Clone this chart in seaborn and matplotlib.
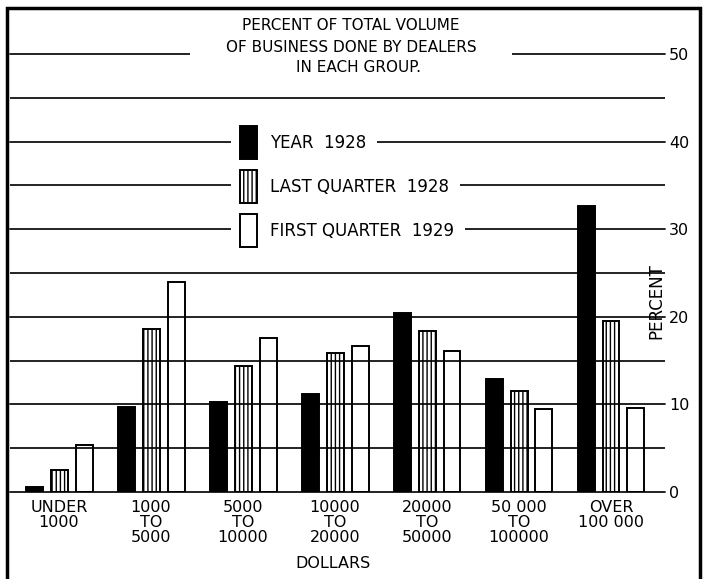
import pandas as pd
import seaborn as sns
import matplotlib.pyplot as plt
import matplotlib.patheffects as pe
from matplotlib.patches import Patch, Rectangle

# values (percent of total volume)
categories = ["UNDER\n1000", "1000\nTO\n5000", "5000\nTO\n10000", "10000\nTO\n20000",
              "20000\nTO\n50000", "50 000\nTO\n100000", "OVER\n100 000"]
series = ["YEAR  1928", "LAST QUARTER  1928", "FIRST QUARTER  1929"]
year_1928 = [0.6, 9.7, 10.3, 11.2, 20.4, 12.9, 32.6]
last_quarter_1928 = [2.5, 18.6, 14.4, 15.9, 18.4, 11.5, 19.5]
first_quarter_1929 = [5.4, 24.0, 17.6, 16.7, 16.1, 9.5, 9.6]
title_lines = ["PERCENT OF TOTAL VOLUME", "OF BUSINESS DONE BY DEALERS", "IN EACH GROUP."]

df = pd.DataFrame({
    "group": categories * 3,
    "series": [s for s in series for _ in categories],
    "value": year_1928 + last_quarter_1928 + first_quarter_1929,
})

sns.set_style("white")
plt.rcParams['font.family'] = ['DejaVu Sans']
plt.rcParams['hatch.linewidth'] = 1.0
plt.rcParams['text.color'] = 'black'
plt.rcParams['xtick.color'] = 'black'
plt.rcParams['ytick.color'] = 'black'

W, H = 710, 579
fig = plt.figure(figsize=(W / 100, H / 100), dpi=100)
ax = fig.add_axes([10 / W, (H - 492) / H, (665 - 10) / W, (492 - 54) / H])

sns.barplot(data=df, x="group", y="value", hue="series",
            order=categories, hue_order=series,
            palette=["black", "white", "white"],
            width=0.815, gap=0.32, errorbar=None, legend=False, ax=ax)

styles = [dict(facecolor="black", hatch=None),
          dict(facecolor="none", hatch="||||"),
          dict(facecolor="none", hatch=None)]
for cont, st in zip(ax.containers, styles):
    for bar in cont:
        bar.set_facecolor(st["facecolor"])
        bar.set_edgecolor("black")
        bar.set_linewidth(1.4)
        if st["hatch"]:
            bar.set_hatch(st["hatch"])
        bar.set_zorder(3)

ax.set_xlim(-0.533, 6.587)
ax.set_ylim(0, 50)
ax.set_yticks(range(0, 51, 10))
ax.set_yticks(range(5, 50, 10), minor=True)
ax.yaxis.tick_right()
ax.tick_params(axis="y", which="both", length=0, pad=3, labelsize=11.5)
ax.tick_params(axis="x", length=0, pad=6, labelsize=11.5)
for lab in ax.get_xticklabels():
    lab.set_linespacing(1.0)
ax.grid(axis="y", which="both", color="#111111", linewidth=1.3)
for gl in ax.yaxis.get_gridlines():
    gl.set_clip_on(False)
ax.set_axisbelow(True)
for s in ax.spines.values():
    s.set_visible(False)
ax.set_xlabel("")
ax.set_ylabel("")

# legend
halo = [pe.Stroke(linewidth=13, foreground="white"), pe.Normal()]
handles = [Patch(facecolor="black", edgecolor="black", linewidth=1.4, path_effects=halo),
           Patch(facecolor="white", edgecolor="black", linewidth=1.4, hatch="||||", path_effects=halo),
           Patch(facecolor="white", edgecolor="black", linewidth=1.4, path_effects=halo)]
leg = ax.legend(handles, series, loc="upper left",
                bbox_to_anchor=(240 / W, 1 - 126 / H), bbox_transform=fig.transFigure,
                frameon=False, borderpad=0, borderaxespad=0, fontsize=12,
                handlelength=1.02, handleheight=2.67, labelspacing=0.66, handletextpad=0.78)
for t in leg.get_texts():
    t.set_bbox(dict(facecolor="white", edgecolor="none", pad=8))

# title, middle line breaks the 50 line
fig.text(351 / W, 1 - 47 / H, title_lines[1], ha="center", va="center", fontsize=11,
         bbox=dict(facecolor="white", edgecolor="none", pad=26))
fig.text(351 / W, 1 - 25 / H, title_lines[0], ha="center", va="center", fontsize=11)
fig.text(358 / W, 1 - 68 / H, title_lines[2], ha="center", va="center", fontsize=11)

fig.text(656 / W, 1 - 301 / H, "PERCENT", rotation=90, ha="center", va="center", fontsize=12)
fig.text(333 / W, 1 - 564 / H, "DOLLARS", ha="center", va="center", fontsize=11.5)

fig.patches.append(Rectangle((7 / W, -0.05), (700 - 7) / W, 1.05 - 8 / H,
                             transform=fig.transFigure, fill=False, zorder=10,
                             edgecolor="black", linewidth=2.5))

plt.savefig("out.png", dpi=100)
